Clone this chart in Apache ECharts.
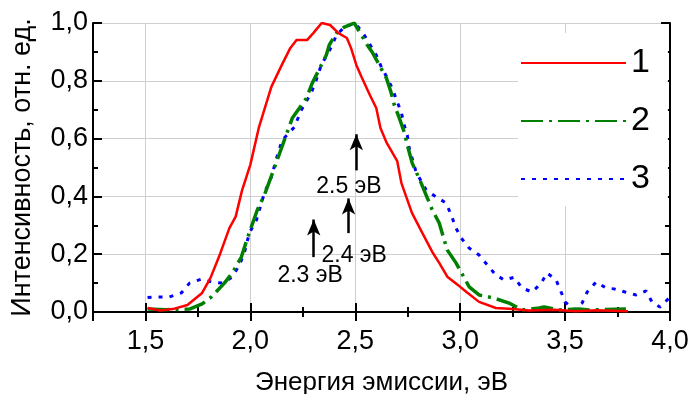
<!DOCTYPE html>
<html>
<head>
<meta charset="utf-8">
<script src="https://cdn.jsdelivr.net/npm/echarts@6/dist/echarts.min.js"></script>
<style>
  html, body { margin: 0; padding: 0; background: #fff; }
  #chart { width: 691px; height: 394px; }
</style>
</head>
<body>
<div id="chart"></div>
<script>
// curve 1 (red, solid)
const energy1 = [1.51, 1.57, 1.63, 1.70, 1.77, 1.81, 1.85, 1.90, 1.93, 1.96, 2.00, 2.04, 2.10, 2.15, 2.19, 2.22,
  2.27, 2.30, 2.34, 2.38, 2.42, 2.46, 2.48, 2.505, 2.53, 2.57, 2.60, 2.62, 2.65, 2.70, 2.72, 2.77, 2.82, 2.87,
  2.90, 2.94, 3.00, 3.03, 3.09, 3.17, 3.25, 3.33, 3.45, 3.55, 3.65, 3.80];
const intensity1 = [0.014, 0.005, 0.01, 0.024, 0.066, 0.118, 0.19, 0.29, 0.33, 0.42, 0.51, 0.637, 0.779, 0.855, 0.913, 0.941,
  0.941, 0.965, 1.0, 0.993, 0.965, 0.948, 0.913, 0.855, 0.813, 0.75, 0.706, 0.637, 0.585, 0.522, 0.446, 0.343, 0.273, 0.204,
  0.17, 0.121, 0.087, 0.069, 0.035, 0.014, 0.01, 0.005, 0.008, 0.003, 0.006, 0.003];

// curve 2 (green, dash-dot)
const energy2 = [1.51, 1.60, 1.71, 1.77, 1.814, 1.876, 1.914, 1.957, 1.986, 2.033, 2.067, 2.12, 2.176, 2.20, 2.267, 2.295,
  2.362, 2.376, 2.414, 2.448, 2.495, 2.557, 2.58, 2.648, 2.67, 2.686, 2.71, 2.733, 2.748, 2.771, 2.814, 2.867, 2.90,
  2.938, 2.98, 3.043, 3.09, 3.162, 3.233, 3.295, 3.376, 3.40, 3.47, 3.567, 3.614, 3.79];
const intensity2 = [0.01, 0.008, 0.01, 0.028, 0.052, 0.10, 0.135, 0.19, 0.256, 0.353, 0.405, 0.51, 0.623, 0.671, 0.74, 0.792,
  0.889, 0.924, 0.969, 0.986, 1.0, 0.924, 0.9, 0.81, 0.761, 0.716, 0.671, 0.623, 0.578, 0.516, 0.446, 0.353, 0.308,
  0.215, 0.17, 0.087, 0.059, 0.048, 0.031, 0.007, 0.014, 0.017, 0.007, 0.01, 0.007, 0.01];

// curve 3 (blue, dotted)
const energy3 = [1.51, 1.552, 1.614, 1.671, 1.71, 1.767, 1.814, 1.867, 1.914, 1.948, 1.971, 1.995, 2.029, 2.067, 2.10, 2.124,
  2.152, 2.21, 2.243, 2.29, 2.314, 2.338, 2.386, 2.41, 2.448, 2.50, 2.543, 2.60, 2.624, 2.652, 2.676, 2.70, 2.719,
  2.733, 2.748, 2.757, 2.79, 2.838, 2.886, 2.933, 2.957, 2.98, 3.005, 3.043, 3.09, 3.129, 3.17, 3.21, 3.257, 3.295,
  3.343, 3.386, 3.414, 3.457, 3.481, 3.50, 3.543, 3.581, 3.605, 3.648, 3.695, 3.733, 3.786, 3.838, 3.886, 3.914,
  3.952, 3.995];
const intensity3 = [0.05, 0.052, 0.052, 0.066, 0.10, 0.114, 0.104, 0.10, 0.121, 0.163, 0.204, 0.273, 0.318, 0.412, 0.467, 0.53,
  0.595, 0.64, 0.699, 0.758, 0.803, 0.855, 0.917, 0.958, 0.986, 1.0, 0.958, 0.889, 0.848, 0.81, 0.775, 0.727, 0.692,
  0.647, 0.612, 0.567, 0.484, 0.422, 0.398, 0.377, 0.336, 0.29, 0.256, 0.221, 0.197, 0.163, 0.128, 0.111, 0.12, 0.083,
  0.069, 0.10, 0.135, 0.111, 0.069, 0.035, 0.007, 0.031, 0.069, 0.104, 0.083, 0.08, 0.069, 0.059, 0.073, 0.035,
  0.017, 0.048];

const seriesNames = ['1', '2', '3'];

// arrows and their notes
const arrowX = [2.505, 2.468, 2.302];
const arrowFrom = [0.49, 0.273, 0.19];
const arrowTo = [0.615, 0.393, 0.32];
const noteText = ['2.5 эВ', '2.4 эВ', '2.3 эВ'];
const noteX = [2.47, 2.495, 2.285];
const noteY = [0.432, 0.195, 0.125];

const FONT = "'Liberation Sans', Arial, sans-serif";

const zip = (xs, ys) => xs.map((x, i) => [x, ys[i]]);
const comma = (v) => v.toFixed(1).replace('.', ',');

const chart = echarts.init(document.getElementById('chart'));

const baseX = {
  type: 'value',
  min: 1.25,
  max: 4,
  minInterval: 0.5,
  maxInterval: 0.5,
  axisLine: { lineStyle: { color: '#000', width: 2 } },
  axisTick: { inside: true, length: 9, lineStyle: { color: '#000', width: 2 } },
  minorTick: { show: true, splitNumber: 2, length: 5, lineStyle: { color: '#000', width: 2 } }
};
const baseY = {
  type: 'value',
  min: 0,
  max: 1,
  interval: 0.2,
  axisLine: { show: true, lineStyle: { color: '#000', width: 2 } },
  axisTick: { show: true, inside: true, length: 9, lineStyle: { color: '#000', width: 2 } },
  minorTick: { show: true, splitNumber: 2, length: 5, lineStyle: { color: '#000', width: 2 } }
};

const option = {
  animation: false,
  textStyle: { fontFamily: FONT },
  grid: { left: 93, right: 21, top: 23, bottom: 82, containLabel: false, outerBoundsMode: 'none' },
  xAxis: [
    Object.assign({}, baseX, {
      position: 'bottom',
      name: 'Энергия эмиссии, эВ',
      nameLocation: 'middle',
      nameGap: 58,
      nameTextStyle: { fontSize: 26, color: '#000', fontFamily: FONT },
      axisLabel: {
        fontSize: 27, color: '#000', margin: 16, fontFamily: FONT,
        showMinLabel: false, formatter: comma
      },
      splitLine: { show: true, lineStyle: { color: '#cfcfcf', width: 1 } }
    }),
    Object.assign({}, baseX, {
      position: 'top',
      axisLabel: { show: false },
      splitLine: { show: false }
    })
  ],
  yAxis: [
    Object.assign({}, baseY, {
      position: 'left',
      name: 'Интенсивность, отн. ед.',
      nameLocation: 'middle',
      nameGap: 57,
      nameTextStyle: { fontSize: 27, color: '#000', fontFamily: FONT },
      axisLabel: { fontSize: 27, color: '#000', margin: 5, fontFamily: FONT, formatter: comma },
      splitLine: { show: true, lineStyle: { color: '#cfcfcf', width: 1 } }
    }),
    Object.assign({}, baseY, {
      position: 'right',
      axisLabel: { show: false },
      splitLine: { show: false }
    })
  ],
  legend: {
    data: seriesNames,
    orient: 'vertical',
    left: 518,
    top: 33,
    itemWidth: 105,
    itemHeight: 14,
    itemGap: 18,
    backgroundColor: '#fff',
    padding: [10, 18, 7, 2],
    itemStyle: { opacity: 0 },
    textStyle: { fontSize: 34, lineHeight: 40, color: '#000', fontFamily: FONT }
  },
  series: [
    {
      name: seriesNames[0], type: 'line', symbol: 'none', z: 4,
      data: zip(energy1, intensity1),
      lineStyle: { color: '#ff0000', width: 2.5 },
      itemStyle: { color: '#ff0000' }
    },
    {
      name: seriesNames[1], type: 'line', symbol: 'none', z: 3,
      data: zip(energy2, intensity2),
      lineStyle: { color: '#008000', width: 3.5, type: [22, 6, 3, 6] },
      itemStyle: { color: '#008000' }
    },
    {
      name: seriesNames[2], type: 'line', symbol: 'none', z: 2,
      data: zip(energy3, intensity3),
      lineStyle: { color: '#0000ff', width: 3, type: [4, 7] },
      itemStyle: { color: '#0000ff' }
    },
    {
      // arrows and notes
      name: 'notes', type: 'line', data: [], z: 5,
      markLine: {
        silent: true,
        symbol: ['none', 'arrow'],
        symbolSize: [10, 16],
        label: { show: false },
        lineStyle: { color: '#000', width: 2.5, type: 'solid' },
        data: arrowX.map((x, i) => [{ coord: [x, arrowFrom[i]] }, { coord: [x, arrowTo[i]] }])
      },
      markPoint: {
        silent: true,
        symbol: 'circle',
        symbolSize: 0,
        label: {
          show: true, position: 'inside', color: '#000', fontSize: 23, fontFamily: FONT,
          formatter: (p) => p.name
        },
        data: noteText.map((t, i) => ({ name: t, coord: [noteX[i], noteY[i]] }))
      }
    }
  ]
};

chart.setOption(option);
</script>
</body>
</html>
